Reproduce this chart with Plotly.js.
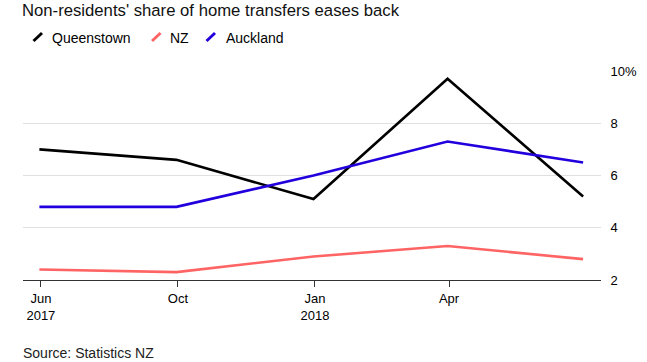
<!DOCTYPE html>
<html>
<head>
<meta charset="utf-8">
<script src="https://cdn.plot.ly/plotly-3.0.1.min.js"></script>
<style>html,body{margin:0;padding:0;background:#fff;}#chart{width:647px;height:362px;}</style>
</head>
<body>
<div id="chart"></div>
<script>
// Data
const dates = ['2017-06-30', '2017-09-30', '2017-12-31', '2018-03-31', '2018-06-30'];
const queenstown = [7.0, 6.6, 5.1, 9.7, 5.2];
const nz = [2.4, 2.3, 2.9, 3.3, 2.8];
const auckland = [4.8, 4.8, 6.0, 7.3, 6.5];
const seriesNames = ['Queenstown', 'NZ', 'Auckland'];
const xTickVals = ['2017-07-01', '2017-10-01', '2018-01-01', '2018-04-01'];
const xTickText = ['Jun<br>2017', 'Oct', 'Jan<br>2018', 'Apr'];
const yTickVals = [2, 4, 6, 8, 10];
const yTickText = ['2', '4', '6', '8', '10%'];

const colors = ['#000000', '#ff6464', '#2200dd'];
const W = 647, H = 362;
const M = {l: 23, r: 46, t: 71, b: 82};
const pw = W - M.l - M.r, ph = H - M.t - M.b;
const px = x => (x - M.l) / pw;
const py = y => (H - M.b - y) / ph;
const FONT = 'Liberation Sans, Arial, sans-serif';

const traces = [queenstown, nz, auckland].map((vals, i) => ({
  type: 'scatter', mode: 'lines', x: dates, y: vals, name: seriesNames[i],
  line: {color: colors[i], width: 2.6}, showlegend: false, hoverinfo: 'skip'
}));

// custom legend (slash icons + text)
const legendItems = [
  {sx: 33.5, tx: 49.5},
  {sx: 152, tx: 168},
  {sx: 206.5, tx: 224}
];
const shapes = legendItems.map((it, i) => ({
  type: 'line', xref: 'paper', yref: 'paper',
  x0: px(it.sx), y0: py(41), x1: px(it.sx + 8.5), y1: py(33),
  line: {color: colors[i], width: 3}
}));
const annotations = legendItems.map((it, i) => ({
  xref: 'paper', yref: 'paper', x: px(it.tx), y: py(37.5),
  xanchor: 'left', yanchor: 'middle', showarrow: false,
  text: seriesNames[i], font: {family: FONT, size: 14, color: '#000'}
}));
annotations.push({
  xref: 'paper', yref: 'paper', x: px(21), y: py(352.5),
  xanchor: 'left', yanchor: 'middle', showarrow: false,
  text: 'Source: Statistics NZ', font: {family: FONT, size: 14, color: '#222'}
});

const layout = {
  width: W, height: H, margin: M,
  paper_bgcolor: '#fff', plot_bgcolor: '#fff',
  font: {family: FONT, color: '#000'},
  title: {
    text: "Non-residents' share of home transfers eases back",
    x: 22 / W, xanchor: 'left', xref: 'container',
    y: 1 - 10 / H, yanchor: 'middle', yref: 'container',
    font: {family: FONT, size: 16.7, color: '#111'}
  },
  xaxis: {
    type: 'date', range: ['2017-06-19', '2018-07-12'],
    tickvals: xTickVals, ticktext: xTickText,
    showgrid: false, zeroline: false,
    showline: true, linecolor: '#333', linewidth: 1,
    ticks: 'outside', ticklen: 6, tickcolor: '#333', tickwidth: 1,
    tickfont: {family: FONT, size: 13, color: '#000'},
    fixedrange: true
  },
  yaxis: {
    range: [2, 10], side: 'right',
    tickvals: yTickVals, ticktext: yTickText,
    showgrid: true, gridcolor: '#e0e0e0', gridwidth: 1,
    zeroline: false, showline: false,
    ticks: 'outside', ticklen: 6, tickcolor: 'rgba(0,0,0,0)',
    tickfont: {family: FONT, size: 13, color: '#000'},
    fixedrange: true
  },
  shapes: shapes,
  annotations: annotations,
  showlegend: false
};

Plotly.newPlot('chart', traces, layout, {displayModeBar: false, staticPlot: true});
</script>
</body>
</html>
